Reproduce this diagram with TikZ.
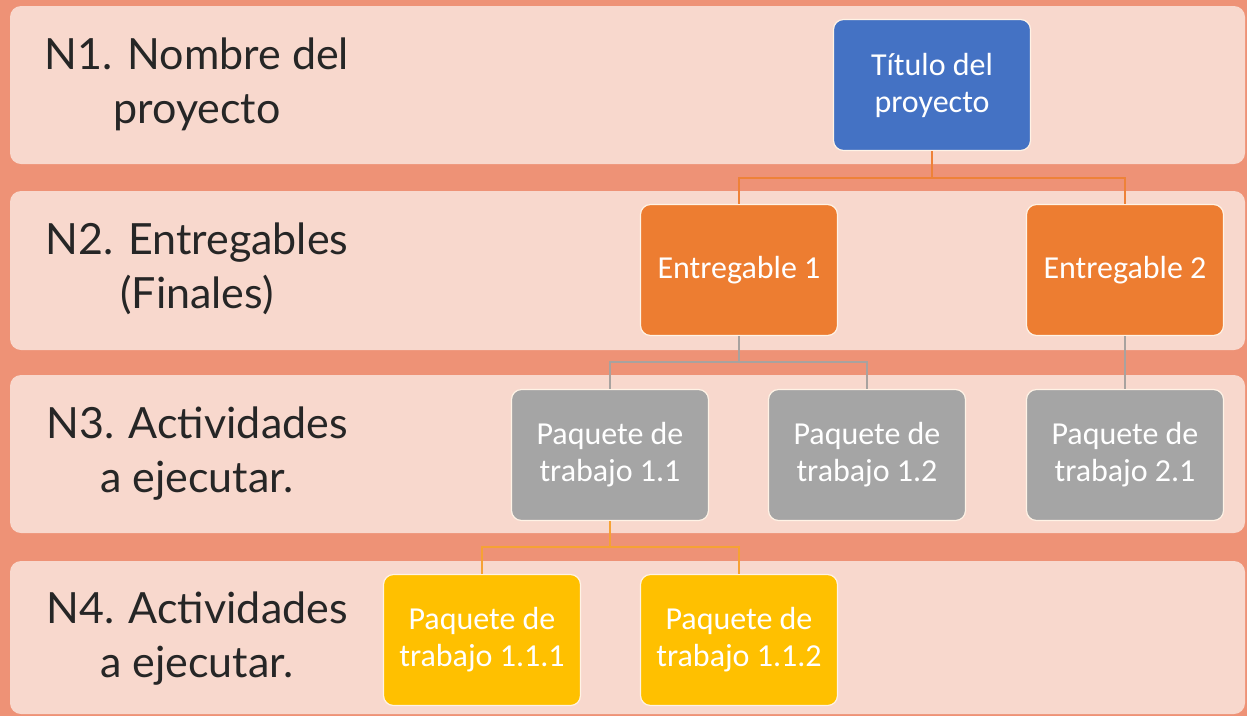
\documentclass[tikz,border=0pt]{standalone}
\usepackage{fontspec}
\setmainfont{Lato}
\newfontfamily\boxfont{Carlito}
\definecolor{bgc}{HTML}{EE9276}
\definecolor{bandc}{HTML}{F8D8CD}
\definecolor{blueb}{HTML}{4472C4}
\definecolor{orangeb}{HTML}{ED7D31}
\definecolor{grayb}{HTML}{A5A5A5}
\definecolor{yellowb}{HTML}{FFC000}
\definecolor{linkorange}{HTML}{EE8238}
\definecolor{linkgray}{HTML}{A8A29F}
\definecolor{linkgold}{HTML}{F6A234}
\definecolor{edgec}{HTML}{FFF3E6}
\begin{document}
\begin{tikzpicture}[x=1pt,y=-1pt,
  band/.style={fill=bandc, rounded corners=11pt},
  lvl/.style={font=\fontsize{43}{54}\selectfont, text=black!85, align=center, inner sep=0pt},
  wbs/.style={draw=edgec, line width=1.2pt, rounded corners=10pt, minimum width=197pt, minimum height=131pt,
     text=white, align=center, font=\boxfont\fontsize{32}{37}\selectfont, inner sep=0pt},
  lk/.style={line width=1.6pt}
]
\useasboundingbox (0,0) rectangle (1247,716);
\fill[bgc] (0,0) rectangle (1247,716);
% bands
\path[band] (10,6) rectangle (1245,164);
\path[band] (10,191) rectangle (1245,350);
\path[band] (10,375) rectangle (1245,533);
\path[band] (10,561) rectangle (1245,714);
% level labels
\node[lvl] (l1) at (197,84) {N1. Nombre del\\proyecto};
\node[lvl] (l2) at (197,269) {N2. Entregables\\(Finales)};
\node[lvl] (l3) at (197,454) {N3. Actividades\\a ejecutar.};
\node[lvl] (l4) at (197,639) {N4. Actividades\\a ejecutar.};
% boxes
\node[wbs, fill=blueb] (t) at (932,85) {Título del\\proyecto};
\node[wbs, fill=orangeb] (e1) at (739,270) {Entregable 1};
\node[wbs, fill=orangeb] (e2) at (1125,270) {Entregable 2};
\node[wbs, fill=grayb] (p11) at (610,455) {Paquete de\\trabajo 1.1};
\node[wbs, fill=grayb] (p12) at (867,455) {Paquete de\\trabajo 1.2};
\node[wbs, fill=grayb] (p21) at (1125,455) {Paquete de\\trabajo 2.1};
\node[wbs, fill=yellowb] (p111) at (482,640) {Paquete de\\trabajo 1.1.1};
\node[wbs, fill=yellowb] (p112) at (739,640) {Paquete de\\trabajo 1.1.2};
% connectors
\coordinate (j1) at (932,178);
\coordinate (j2) at (739,362);
\coordinate (j3) at (610,547);
\draw[lk, linkorange] (t.south) -- (j1);
\draw[lk, linkorange] (e1.north) |- (j1) -| (e2.north);
\draw[lk, linkgray] (e1.south) -- (j2);
\draw[lk, linkgray] (p11.north) |- (j2) -| (p12.north);
\draw[lk, linkgray] (e2.south) -- (p21.north);
\draw[lk, linkgold] (p11.south) -- (j3);
\draw[lk, linkgold] (p111.north) |- (j3) -| (p112.north);
\end{tikzpicture}
\end{document}
